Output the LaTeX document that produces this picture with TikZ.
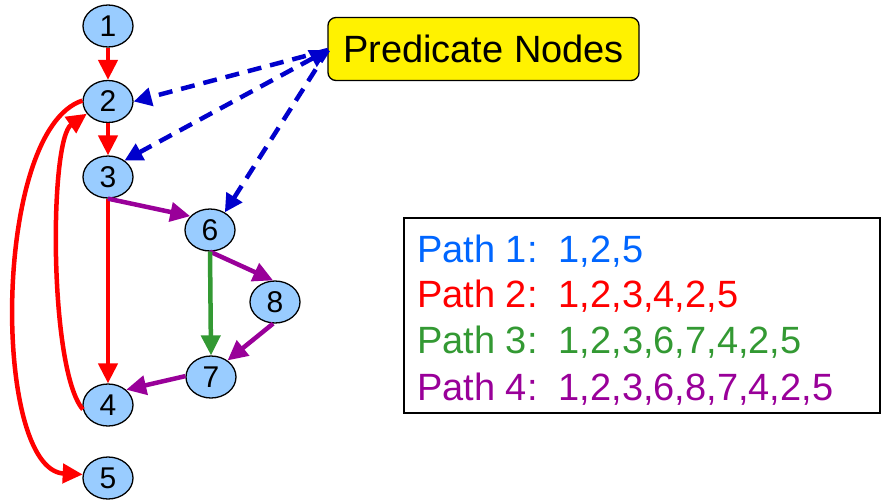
\documentclass[tikz,border=0pt]{standalone}
\usepackage{fontspec}
\setmainfont{Liberation Sans}
\usetikzlibrary{shapes.geometric,arrows.meta}
\definecolor{nodefill}{RGB}{153,204,255}
\definecolor{pblue}{RGB}{0,102,255}
\definecolor{dblue}{RGB}{0,0,204}
\definecolor{pred}{RGB}{255,0,0}
\definecolor{pgreen}{RGB}{51,153,51}
\definecolor{ppurple}{RGB}{153,0,153}
\tikzset{
  vnode/.style={ellipse, draw=black, line width=1.3pt, fill=nodefill, minimum width=50pt, minimum height=42pt, inner sep=0pt, font=\fontsize{30}{34}\selectfont},
  edge/.style={line width=4.5pt, -{Triangle[length=20pt,width=19pt]}},
  rededge/.style={edge, draw=pred},
  purpedge/.style={edge, draw=ppurple},
  greenedge/.style={edge, draw=pgreen},
  predline/.style={line width=4.5pt, draw=dblue, dash pattern=on 14pt off 9pt, -{Triangle[length=18pt,width=18pt]}},
  pathtxt/.style={anchor=base west, inner sep=0pt, font=\fontsize{38}{44}\selectfont}
}
\begin{document}
\begin{tikzpicture}[x=1pt,y=-1pt]
\useasboundingbox (0,0) rectangle (881,499);
\clip (0,0) rectangle (881,499);
% nodes
\node[vnode] (n1) at (108,26) {1};
\node[vnode] (n2) at (108,101.5) {2};
\node[vnode] (n3) at (108,177) {3};
\node[vnode] (n6) at (210,230) {6};
\node[vnode] (n8) at (275,302) {8};
\node[vnode] (n7) at (211,377) {7};
\node[vnode] (n4) at (108,405) {4};
\node[vnode] (n5) at (108,478) {5};
% predicate box
\node[draw=black, line width=1.3pt, fill=yellow, rounded corners=8pt, minimum width=311pt, minimum height=63pt, inner sep=0pt, font=\fontsize{38}{44}\selectfont] (pn) at (483.5,49) {Predicate Nodes};
\coordinate (pw) at (328,50);
% edges
\draw[rededge] (n1.south) -- (n2.north);
\draw[rededge] (n2.south) -- (n3.north);
\draw[rededge] (n3.south) -- (n4.north);
\draw[purpedge] (n3.south) -- (n6.145);
\draw[purpedge] (n6.south) -- (n8.95);
\draw[greenedge] (n6.south) -- (n7.north);
\draw[purpedge] (n8.-95) -- (n7.45);
\draw[purpedge] (n7.178) -- (n4.40);
\draw[rededge] (n4.190) .. controls (49,370) and (49,140) .. (n2.210);
\draw[rededge] (n2.178) .. controls (-8,130) and (-8,470) .. (n5.172);
% predicate arrows
\draw[predline] (pw) -- (n2.east);
\draw[predline, {Triangle[length=18pt,width=18pt]}-{Triangle[length=18pt,width=18pt]}] (pw) -- (n3.45);
\draw[predline] (pw) -- (n6.50);
% path box
\node[draw=black, line width=1.3pt, minimum width=476pt, minimum height=195pt, inner sep=0pt] (pbox) at (642,315.5) {};
\node[pathtxt, text=pblue] (p1) at (417,262) {Path 1:\ \ 1,2,5};
\node[pathtxt, text=pred] (p2) at (417,307) {Path 2:\ \ 1,2,3,4,2,5};
\node[pathtxt, text=pgreen] (p3) at (417,353) {Path 3:\ \ 1,2,3,6,7,4,2,5};
\node[pathtxt, text=ppurple] (p4) at (417,400) {Path 4:\ \ 1,2,3,6,8,7,4,2,5};
\end{tikzpicture}
\end{document}
